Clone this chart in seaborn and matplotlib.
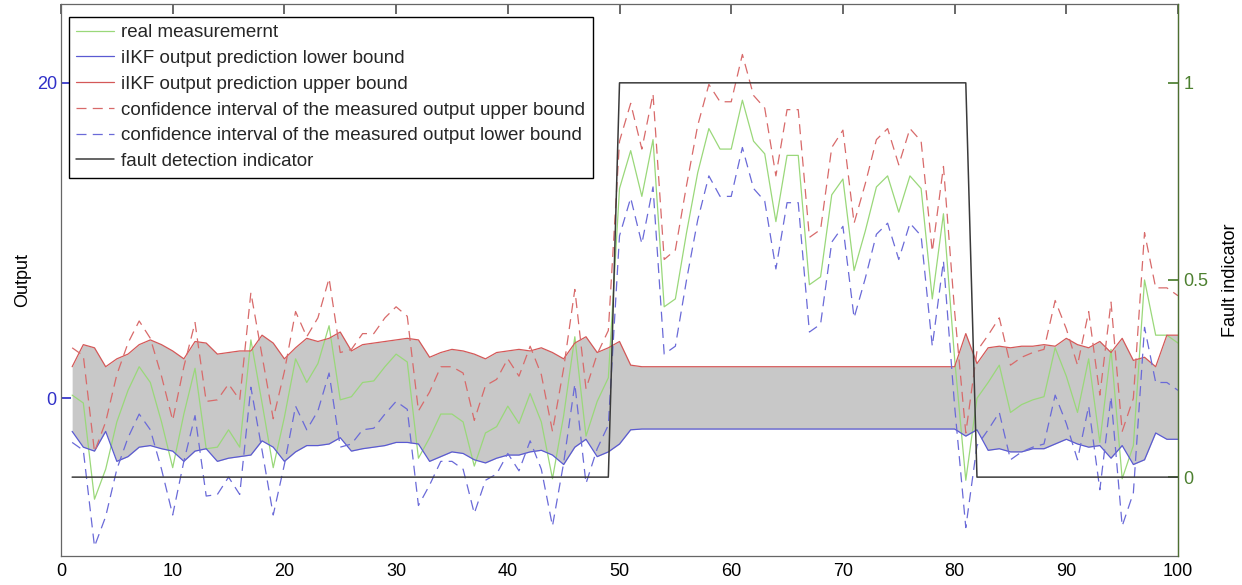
import matplotlib
matplotlib.use('Agg')
import matplotlib.pyplot as plt
import seaborn as sns

# sample index
steps = list(range(1, 101))

# real measurement (green)
measurement = [0.2, -0.3, -6.4, -4.5, -1.5, 0.5, 2.0, 1.0, -1.5, -4.4,
               -1.0, 1.9, -3.2, -3.1, -2.0, -3.1, 3.7, -0.3, -4.4, -1.2,
               2.5, 1.0, 2.2, 4.6, -0.1, 0.1, 1.0, 1.1, 2.0, 2.8,
               2.3, -3.8, -2.5, -1.0, -1.0, -1.5, -4.3, -2.2, -1.8, -0.5,
               -1.6, 0.3, -1.5, -5.1, -1.1, 3.9, -2.4, -0.2, 1.3, 13.3,
               15.7, 12.8, 16.4, 5.8, 6.3, 10.5, 14.3, 17.1, 15.8, 15.8,
               18.9, 16.3, 15.5, 11.2, 15.4, 15.4, 7.2, 7.7, 12.9, 13.9,
               8.1, 10.6, 13.4, 14.1, 11.8, 14.1, 13.3, 6.3, 11.7, 2.5,
               -5.2, 0.0, 1.0, 2.1, -0.9, -0.4, -0.1, 0.1, 3.2, 1.4,
               -0.9, 2.5, -2.8, 3.1, -5.1, -3.0, 7.5, 4.0, 4.0, 3.5]

# iIKF prediction bounds (grey band)
pred_lower = [-2.1, -3.1, -3.35, -2.1, -4.0, -3.7, -3.1, -3.0, -3.2, -3.35,
              -4.0, -3.35, -3.2, -4.0, -3.8, -3.7, -3.6, -2.7, -3.1, -4.0,
              -3.4, -3.0, -3.0, -2.9, -2.5, -3.35, -3.2, -3.1, -3.0, -2.8,
              -2.8, -2.9, -4.0, -3.7, -3.4, -3.5, -3.9, -4.1, -3.8, -3.6,
              -3.6, -3.4, -3.3, -3.6, -4.2, -3.1, -2.6, -3.7, -3.4, -2.9,
              -2.0, -1.95, -1.95, -1.95, -1.95, -1.95, -1.95, -1.95, -1.95, -1.95,
              -1.95, -1.95, -1.95, -1.95, -1.95, -1.95, -1.95, -1.95, -1.95, -1.95,
              -1.95, -1.95, -1.95, -1.95, -1.95, -1.95, -1.95, -1.95, -1.95, -1.95,
              -2.4, -2.0, -3.3, -3.2, -3.4, -3.4, -3.2, -3.2, -2.9, -2.6,
              -2.9, -3.1, -3.0, -3.8, -3.0, -4.2, -3.9, -2.2, -2.6, -2.6]
pred_upper = [2.0, 3.4, 3.2, 2.0, 2.5, 2.8, 3.4, 3.7, 3.4, 3.0,
              2.5, 3.6, 3.5, 2.8, 2.9, 3.0, 3.0, 4.0, 3.5, 2.5,
              3.2, 3.8, 3.6, 3.8, 4.2, 3.0, 3.4, 3.5, 3.6, 3.7,
              3.8, 3.7, 2.6, 2.9, 3.1, 3.0, 2.8, 2.5, 2.9, 3.0,
              3.1, 3.0, 3.2, 2.9, 2.5, 3.5, 3.9, 2.9, 3.2, 3.6,
              2.1, 2.0, 2.0, 2.0, 2.0, 2.0, 2.0, 2.0, 2.0, 2.0,
              2.0, 2.0, 2.0, 2.0, 2.0, 2.0, 2.0, 2.0, 2.0, 2.0,
              2.0, 2.0, 2.0, 2.0, 2.0, 2.0, 2.0, 2.0, 2.0, 2.0,
              4.1, 2.2, 3.2, 3.3, 3.2, 3.3, 3.3, 3.4, 3.3, 3.8,
              3.4, 3.2, 3.6, 2.9, 3.8, 2.4, 2.6, 2.0, 4.0, 4.0]

# confidence interval of the measured output
ci_upper = [3.2, 2.7, -3.4, -1.5, 1.5, 3.5, 4.9, 3.8, 1.4, -1.4,
            2.0, 4.8, -0.2, -0.1, 0.9, -0.1, 6.7, 2.7, -1.3, 1.7,
            5.5, 3.9, 5.1, 7.6, 2.9, 3.1, 4.1, 4.1, 5.1, 5.8,
            5.2, -0.8, 0.4, 2.0, 2.0, 1.6, -1.4, 0.8, 1.2, 2.5,
            1.4, 3.3, 1.5, -2.1, 1.9, 6.9, 0.6, 2.8, 4.3, 16.3,
            18.7, 15.8, 19.3, 8.8, 9.4, 13.5, 17.3, 19.9, 18.8, 18.8,
            21.8, 19.2, 18.4, 14.1, 18.3, 18.3, 10.2, 10.7, 15.9, 17.0,
            11.1, 13.6, 16.4, 17.1, 14.8, 17.1, 16.3, 9.3, 14.7, 5.5,
            -2.2, 3.0, 4.0, 5.1, 2.1, 2.6, 2.9, 3.1, 6.2, 4.4,
            2.1, 5.5, 0.2, 6.1, -2.1, 0.0, 10.5, 7.0, 7.0, 6.5]
ci_lower = [-2.8, -3.3, -9.4, -7.5, -4.5, -2.5, -1.0, -2.0, -4.5, -7.4,
            -4.0, -1.1, -6.2, -6.1, -5.0, -6.1, 0.7, -3.3, -7.4, -4.2,
            -0.5, -2.0, -0.8, 1.6, -3.1, -2.9, -2.0, -1.9, -1.0, -0.2,
            -0.7, -6.8, -5.5, -4.0, -4.0, -4.5, -7.3, -5.2, -4.8, -3.5,
            -4.6, -2.7, -4.5, -8.1, -4.1, 0.9, -5.4, -3.2, -1.7, 10.3,
            12.7, 9.8, 13.4, 2.8, 3.3, 7.5, 11.3, 14.1, 12.8, 12.8,
            15.9, 13.3, 12.5, 8.2, 12.4, 12.4, 4.2, 4.7, 9.9, 10.9,
            5.1, 7.6, 10.4, 11.1, 8.8, 11.1, 10.3, 3.3, 8.7, -0.5,
            -8.2, -3.0, -2.0, -0.9, -3.9, -3.4, -3.1, -2.9, 0.2, -1.6,
            -3.9, -0.5, -5.8, 0.1, -8.1, -6.0, 4.5, 1.0, 1.0, 0.5]

# fault detection indicator (right axis)
fault = [0] * 49 + [1] * 32 + [0] * 19

sns.set_theme(style='white')
plt.rcParams['font.family'] = ['Liberation Sans', 'DejaVu Sans']

fig = plt.figure(figsize=(12.42, 5.85), dpi=100)
ax = fig.add_axes([0.0491, 0.0496, 0.8994, 0.9436])

ax.fill_between(steps, pred_lower, pred_upper, color='#c8c8c8', lw=0)
sns.lineplot(x=steps, y=measurement, ax=ax, color='#9ad87a', lw=0.9,
             label='real measuremernt')
sns.lineplot(x=steps, y=pred_lower, ax=ax, color='#5a5ad2', lw=0.9,
             label='iIKF output prediction lower bound')
sns.lineplot(x=steps, y=pred_upper, ax=ax, color='#d45858', lw=0.9,
             label='iIKF output prediction upper bound')
sns.lineplot(x=steps, y=ci_upper, ax=ax, color='#d86a6a', lw=0.9,
             label='confidence interval of the measured output upper bound')
sns.lineplot(x=steps, y=ci_lower, ax=ax, color='#6a6ad8', lw=0.9,
             label='confidence interval of the measured output lower bound')
ax.lines[3].set_dashes((8, 5))
ax.lines[4].set_dashes((8, 5))
handles, labels = ax.get_legend_handles_labels()
if ax.get_legend():
    ax.get_legend().remove()

ax.set_xlim(0, 100)
ax.set_ylim(-10, 25)
ax.set_xticks(range(0, 101, 10))
ax.set_yticks([0, 20])
ax.tick_params(axis='x', direction='in', length=7, top=True, labelsize=13,
               pad=5, colors='#555555', labelcolor='black')
ax.tick_params(axis='y', direction='in', length=7, labelsize=13, pad=3,
               colors='#3030c8')
ax.set_ylabel('Output', fontsize=13, color='black', labelpad=4)
for s in ax.spines.values():
    s.set_color('#666666')
    s.set_linewidth(0.9)

ax2 = ax.twinx()
sns.lineplot(x=steps, y=fault, ax=ax2, color='#3a3a3a', lw=1.1,
             label='fault detection indicator')
h2, l2 = ax2.get_legend_handles_labels()
if ax2.get_legend():
    ax2.get_legend().remove()
ax2.set_ylim(-0.2, 1.2)
ax2.set_yticks([0, 0.5, 1])
ax2.set_yticklabels(['0', '0.5', '1'])
ax2.tick_params(axis='y', direction='in', length=7, labelsize=13, pad=4,
                colors='#4d8030')
ax2.set_ylabel('Fault indicator', fontsize=13, color='black', labelpad=10)
for name, s in ax2.spines.items():
    s.set_visible(name == 'right')
ax2.spines['right'].set_color('#4d7030')
ax2.spines['right'].set_linewidth(0.9)

leg = ax2.legend(handles + h2, labels + l2, loc='upper left',
                 bbox_to_anchor=(0.007, 0.977), borderaxespad=0,
                 fontsize=13.5, handlelength=2.0, handletextpad=0.4,
                 labelspacing=0.46, fancybox=False, framealpha=1,
                 edgecolor='black', borderpad=0.4)
leg.get_frame().set_linewidth(1.0)

fig.savefig('out.png', dpi=100)
